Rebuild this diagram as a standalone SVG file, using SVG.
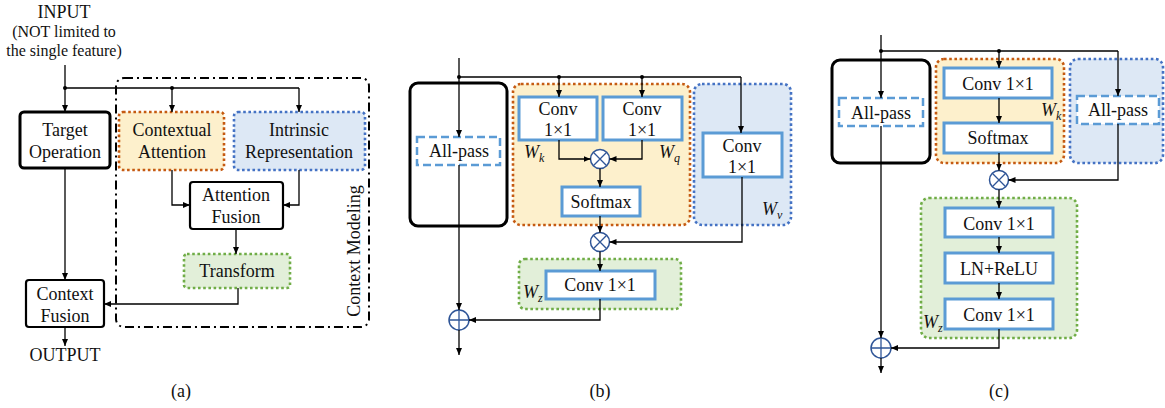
<svg xmlns="http://www.w3.org/2000/svg" width="1165" height="408" viewBox="0 0 1165 408">
<defs>
<marker id="ar" markerWidth="7" markerHeight="6" refX="7" refY="3" orient="auto" markerUnits="userSpaceOnUse">
<path d="M0,0 L7,3 L0,6 Z" fill="#000"/>
</marker>
</defs>
<style>
text{font-family:"Liberation Serif","Times New Roman",serif;font-size:18px;fill:#111;text-anchor:middle}
.sm{font-size:16px}
.it{font-style:italic;text-anchor:start}
.sub{font-size:12px}
.blk{fill:#fff;stroke:#000;stroke-width:3}
.blk2{fill:#fff;stroke:#000;stroke-width:2.2}
.org{fill:#fdf0cc;stroke:#c55a11;stroke-width:2.6;stroke-dasharray:2.6 2.6}
.blu{fill:#dde8f5;stroke:#4472c4;stroke-width:2.6;stroke-dasharray:2.6 2.6}
.grn{fill:#e2efd9;stroke:#70ad47;stroke-width:2.6;stroke-dasharray:2.6 2.6}
.cv{fill:#fff;stroke:#5b9bd5;stroke-width:3}
.ap{fill:#fff;stroke:#5b9bd5;stroke-width:2.5;stroke-dasharray:8 4}
.ln{fill:none;stroke:#000;stroke-width:1.3}
.la{fill:none;stroke:#000;stroke-width:1.3;marker-end:url(#ar)}
.op{fill:#fff;stroke:#2f5597;stroke-width:1.5}
.dot{fill:#000}
</style>

<!-- ================= Panel (a) ================= -->
<g id="a-modeling">
<rect x="116" y="78" width="253" height="249" rx="8" fill="none" stroke="#000" stroke-width="2" stroke-dasharray="9 4 2 4"/>
<text transform="translate(360,251) rotate(-90)">Context Modeling</text>
</g>
<g id="a-input">
<text x="64" y="18">INPUT</text>
<text class="sm" x="64" y="37">(NOT limited to</text>
<text class="sm" x="64" y="56">the single feature)</text>
</g>
<g id="a-target"><rect class="blk" x="20" y="112" width="90" height="56" rx="4"/><text x="65" y="136">Target</text><text x="65" y="158">Operation</text></g>
<g id="a-contextual"><rect class="org" x="119" y="112" width="105" height="58" rx="4"/><text x="172" y="136">Contextual</text><text x="172" y="158">Attention</text></g>
<g id="a-intrinsic"><rect class="blu" x="234" y="112" width="131" height="58" rx="4"/><text x="299" y="136">Intrinsic</text><text x="299" y="158">Representation</text></g>
<g id="a-attfusion"><rect class="blk2" x="190" y="182" width="93" height="47" rx="3"/><text x="236" y="201">Attention</text><text x="236" y="223">Fusion</text></g>
<g id="a-transform"><rect class="grn" x="184" y="254" width="106" height="34" rx="3"/><text x="237" y="277">Transform</text></g>
<g id="a-ctxfusion"><rect class="blk2" x="26" y="280" width="78" height="47" rx="3"/><text x="65" y="300">Context</text><text x="65" y="322">Fusion</text></g>
<g id="a-output"><text x="65" y="361">OUTPUT</text></g>
<text x="181" y="397">(a)</text>

<!-- ================= Panel (b) ================= -->
<g id="b-identity"><rect class="blk" x="410" y="83" width="97" height="143" rx="8"/></g>
<g id="b-ctxatt"><rect class="org" x="513" y="84" width="177" height="141" rx="8"/></g>
<g id="b-intrinsic"><rect class="blu" x="694" y="84" width="97" height="141" rx="8"/></g>
<g id="b-transform"><rect class="grn" x="519" y="259" width="162" height="50" rx="6"/></g>
<g id="b-allpass"><rect class="ap" x="417" y="137" width="83" height="28"/><text x="459" y="157">All-pass</text></g>
<g id="b-convk"><rect class="cv" x="519" y="97" width="78" height="43"/><text x="558" y="115">Conv</text><text x="558" y="136">1×1</text></g>
<g id="b-convq"><rect class="cv" x="603" y="97" width="79" height="43"/><text x="642" y="115">Conv</text><text x="642" y="136">1×1</text></g>
<g id="b-convv"><rect class="cv" x="703" y="133" width="79" height="44"/><text x="742" y="152">Conv</text><text x="742" y="173">1×1</text></g>
<g id="b-softmax"><rect class="cv" x="562" y="187" width="78" height="29"/><text x="601" y="208">Softmax</text></g>
<g id="b-convz"><rect class="cv" x="546" y="271" width="109" height="28"/><text x="600" y="291">Conv 1×1</text></g>
<g id="b-labels">
<text class="it" x="524" y="158">W<tspan class="sub" dy="4">k</tspan></text>
<text class="it" x="659" y="158">W<tspan class="sub" dy="4">q</tspan></text>
<text class="it" x="762" y="215">W<tspan class="sub" dy="4">v</tspan></text>
<text class="it" x="523" y="298">W<tspan class="sub" dy="4">z</tspan></text>
</g>
<g id="b-mul1"><circle class="op" cx="600" cy="159" r="9.5"/><path d="M593.3,152.3 L606.7,165.7 M606.7,152.3 L593.3,165.7" stroke="#2f5597" stroke-width="1.3"/></g>
<g id="b-mul2"><circle class="op" cx="600" cy="242" r="9.5"/><path d="M593.3,235.3 L606.7,248.7 M606.7,235.3 L593.3,248.7" stroke="#2f5597" stroke-width="1.3"/></g>
<g id="b-add"><circle class="op" cx="459" cy="320" r="10"/><path d="M449,320 H469 M459,310 V330" stroke="#2f5597" stroke-width="1.3"/></g>
<text x="600" y="397">(b)</text>

<!-- ================= Panel (c) ================= -->
<g id="c-identity"><rect class="blk" x="832" y="60" width="98" height="103" rx="8"/></g>
<g id="c-ctxatt"><rect class="org" x="936" y="59" width="128" height="104" rx="8"/></g>
<g id="c-intrinsic"><rect class="blu" x="1070" y="59" width="93" height="104" rx="8"/></g>
<g id="c-transform"><rect class="grn" x="921" y="198" width="156" height="140" rx="8"/></g>
<g id="c-allpass1"><rect class="ap" x="839" y="98" width="84" height="28"/><text x="881" y="119">All-pass</text></g>
<g id="c-convk"><rect class="cv" x="944" y="68" width="108" height="30"/><text x="998" y="90">Conv 1×1</text></g>
<g id="c-softmax"><rect class="cv" x="944" y="123" width="108" height="30"/><text x="998" y="144">Softmax</text></g>
<g id="c-allpass2"><rect class="ap" x="1077" y="96" width="82" height="28"/><text x="1118" y="116">All-pass</text></g>
<g id="c-conv1"><rect class="cv" x="945" y="208" width="108" height="29"/><text x="999" y="230">Conv 1×1</text></g>
<g id="c-lnrelu"><rect class="cv" x="945" y="253" width="108" height="30"/><text x="999" y="275">LN+ReLU</text></g>
<g id="c-conv2"><rect class="cv" x="945" y="299" width="108" height="30"/><text x="999" y="321">Conv 1×1</text></g>
<g id="c-labels">
<text class="it" x="1041" y="116">W<tspan class="sub" dy="4">k</tspan></text>
<text class="it" x="923" y="328">W<tspan class="sub" dy="4">z</tspan></text>
</g>
<g id="c-mul"><circle class="op" cx="999" cy="180" r="9.5"/><path d="M992.3,173.3 L1005.7,186.7 M1005.7,173.3 L992.3,186.7" stroke="#2f5597" stroke-width="1.3"/></g>
<g id="c-add"><circle class="op" cx="881" cy="348" r="10"/><path d="M871,348 H891 M881,338 V358" stroke="#2f5597" stroke-width="1.3"/></g>
<text x="999" y="397">(c)</text>

<!-- ================= Connectors ================= -->
<g id="connectors">
<!-- (a) -->
<path class="la" d="M65,65 V112"/>
<path class="ln" d="M65,88 H299"/>
<path class="la" d="M172,88 V112"/>
<path class="la" d="M299,88 V112"/>
<circle class="dot" cx="65" cy="88" r="2"/>
<circle class="dot" cx="172" cy="88" r="2"/>
<path class="la" d="M172,170 V205 H190"/>
<path class="la" d="M299,170 V205 H283"/>
<path class="la" d="M236,229 V254"/>
<path class="la" d="M238,288 V304 H104"/>
<path class="la" d="M65,168 V280"/>
<path class="la" d="M65,327 V346"/>
<!-- (b) -->
<path class="la" d="M459,58 V137"/>
<path class="ln" d="M459,77 H741"/>
<circle class="dot" cx="459" cy="77" r="2"/>
<circle class="dot" cx="559" cy="77" r="2"/>
<circle class="dot" cx="642" cy="77" r="2"/>
<path class="la" d="M559,77 V97"/>
<path class="la" d="M642,77 V97"/>
<path class="la" d="M741,77 V133"/>
<path class="la" d="M559,140 V159 H590.5"/>
<path class="la" d="M642,140 V159 H609.5"/>
<path class="la" d="M600,168.5 V187"/>
<path class="la" d="M600,216 V232.5"/>
<path class="la" d="M742,177 V242 H609.5"/>
<path class="la" d="M600,251.5 V271"/>
<path class="la" d="M459,165 V310"/>
<path class="la" d="M600,299 V320 H469"/>
<path class="la" d="M459,330 V355"/>
<!-- (c) -->
<path class="la" d="M881,35 V98"/>
<path class="ln" d="M881,51 H1118"/>
<circle class="dot" cx="881" cy="51" r="2"/>
<circle class="dot" cx="999" cy="51" r="2"/>
<path class="la" d="M999,51 V68"/>
<path class="la" d="M1118,51 V96"/>
<path class="la" d="M999,98 V123"/>
<path class="la" d="M999,153 V170.5"/>
<path class="la" d="M1118,124 V180 H1008.5"/>
<path class="la" d="M999,189.5 V208"/>
<path class="la" d="M999,237 V253"/>
<path class="la" d="M999,283 V299"/>
<path class="la" d="M881,126 V338"/>
<path class="la" d="M999,329 V348 H891"/>
<path class="la" d="M881,358 V373"/>
</g>
</svg>
